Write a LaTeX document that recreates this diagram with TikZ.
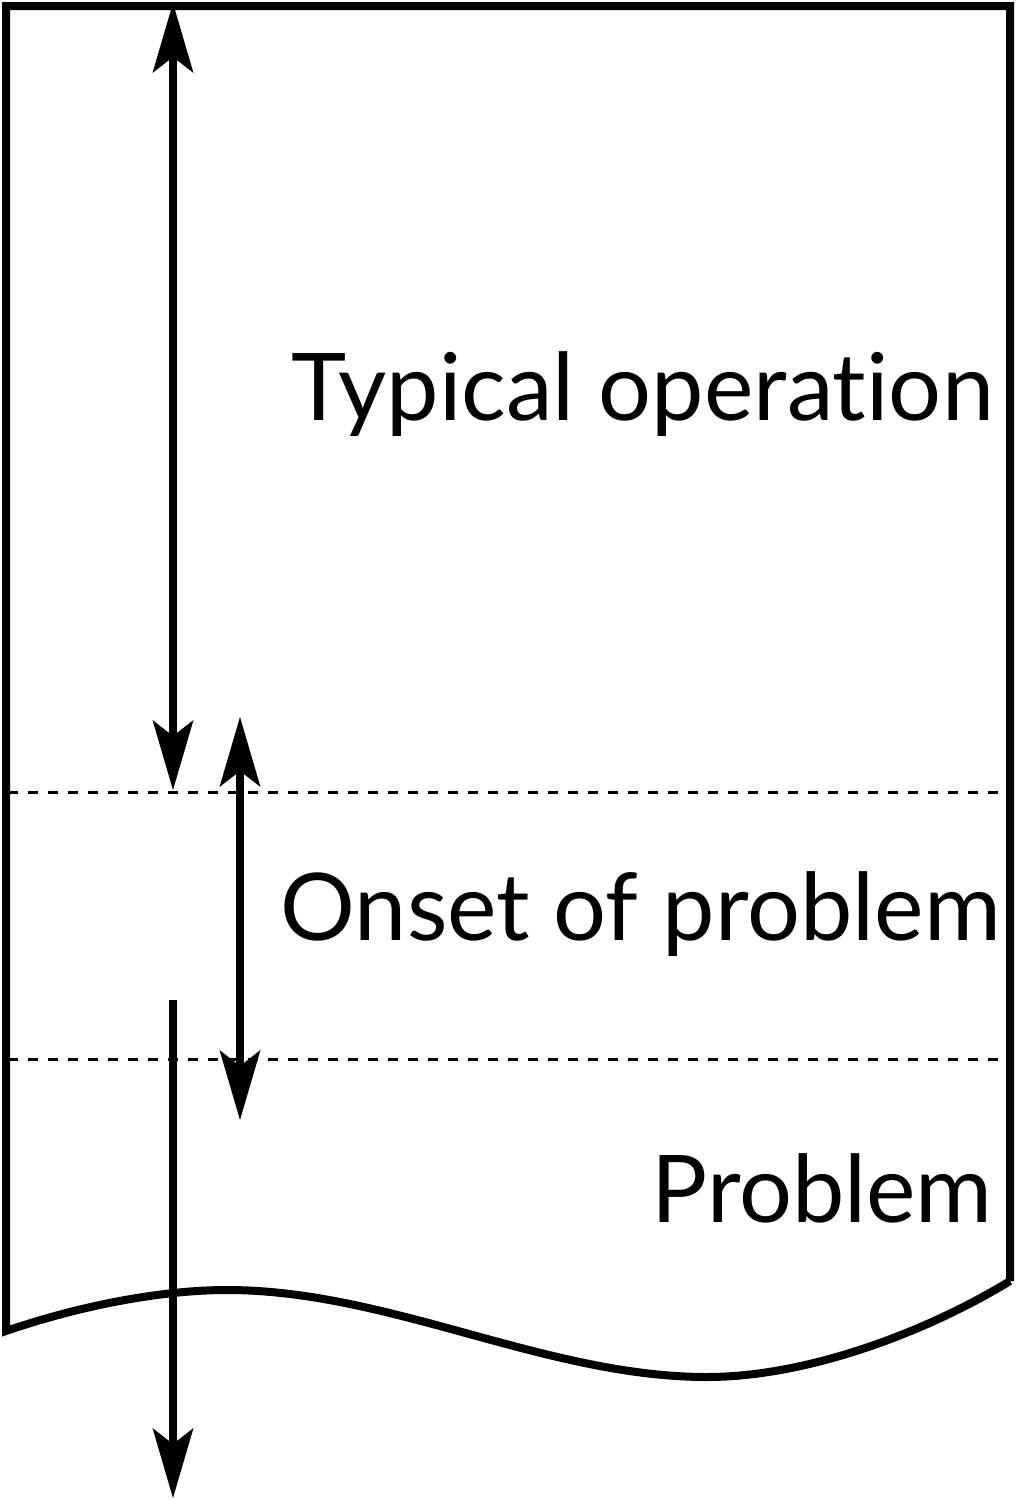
\documentclass[tikz,border=0pt]{standalone}
\usepackage{fontspec}
\setmainfont{Lato}[Ligatures=NoCommon]
\usetikzlibrary{arrows.meta}
\tikzset{
  bigtip/.tip={Stealth[length=70pt, width=41pt, inset=16pt, line width=0pt]},
  thick line/.style={line width=8pt, line join=miter},
  arrowline/.style={line width=8pt, arrows={bigtip-bigtip}},
  arrowdown/.style={line width=8pt, arrows={-bigtip}},
  sep line/.style={line width=3pt, dash pattern=on 10pt off 10pt},
  label/.style={inner sep=0pt, anchor=base east, font=\fontsize{93.5}{100}\selectfont}
}
\begin{document}
\begin{tikzpicture}[x=1pt,y=-1pt]
\useasboundingbox (0,0) rectangle (1017,1500);
% separators
\coordinate (s1l) at (8,792);
\coordinate (s1r) at (998,792);
\coordinate (s2l) at (8,1059);
\coordinate (s2r) at (998,1059);
\draw[sep line] (s1l) -- (s1r);
\draw[sep line] (s2l) -- (s2r);
% box with wavy bottom
\draw[thick line] (1010,1281) -- (1010,6) -- (6,6) -- (6,1331)
  .. controls (85,1304) and (165,1290) .. (227,1290)
  .. controls (390,1290) and (545,1377) .. (707,1377)
  .. controls (810,1377) and (930,1330) .. (1010,1281);
% arrows
\coordinate (a1t) at (173,3);
\coordinate (a1b) at (173,790);
\coordinate (a2t) at (240,717);
\coordinate (a2b) at (240,1120);
\coordinate (a3t) at (173,1000);
\coordinate (a3b) at (173,1498);
\draw[arrowline] (a1b) -- (a1t);
\draw[arrowline] (a2t) -- (a2b);
\draw[arrowdown] (a3t) -- (a3b);
% labels
\node[label] (typ) at (994,420) {Typical operation};
\node[label] (ons) at (1001,940) {Onset of problem};
\node[label] (prob) at (993,1222) {Problem};
\end{tikzpicture}
\end{document}
